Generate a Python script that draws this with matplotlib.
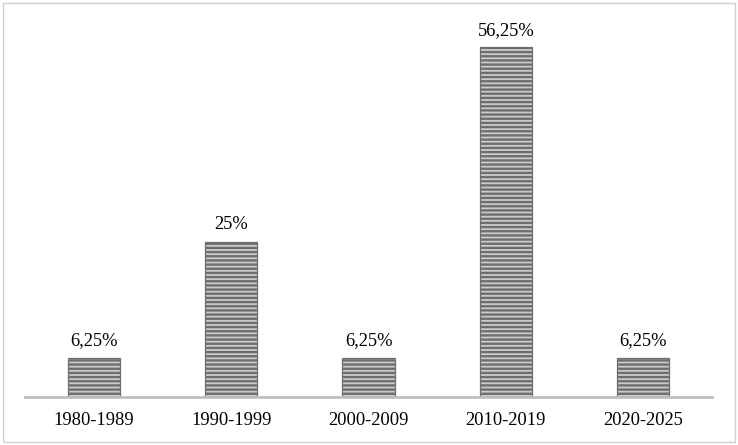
import matplotlib
matplotlib.use("Agg")
import matplotlib.pyplot as plt
from matplotlib.patches import Rectangle

categories = ["1980-1989", "1990-1999", "2000-2009", "2010-2019", "2020-2025"]
values = [6.25, 25, 6.25, 56.25, 6.25]
labels = ["6,25%", "25%", "6,25%", "56,25%", "6,25%"]

plt.rcParams['font.family'] = ['Liberation Serif', 'DejaVu Serif']
plt.rcParams['hatch.linewidth'] = 1.7
plt.rcParams['hatch.color'] = '#585858'

fig = plt.figure(figsize=(7.38, 4.45), dpi=100)
fig.patches.append(Rectangle((0.004, 0.007), 0.992, 0.986, transform=fig.transFigure,
                             fill=False, edgecolor='#d0d0d0', linewidth=1))
ax = fig.add_axes([25/738, 48/445, 687/738, 373/445])

x = range(len(categories))
bars = ax.bar(x, values, width=0.38, color='#cccccc', edgecolor='#6e6e6e',
              linewidth=0.9, hatch='----')
for b, lab in zip(bars, labels):
    ax.text(b.get_x() + b.get_width()/2, b.get_height() + 1.4, lab,
            ha='center', va='bottom', fontsize=13.3, color='black')

ax.set_xlim(-0.5, len(categories) - 0.5)
ax.set_ylim(0, 60)
ax.set_xticks(list(x))
ax.set_xticklabels(categories, fontsize=13.3)
ax.tick_params(axis='x', length=0, pad=11)
ax.set_yticks([])
for s in ['top', 'right', 'left']:
    ax.spines[s].set_visible(False)
ax.spines['bottom'].set_color('#bfbfbf')
ax.spines['bottom'].set_linewidth(2)

fig.savefig("out.png", dpi=100)
